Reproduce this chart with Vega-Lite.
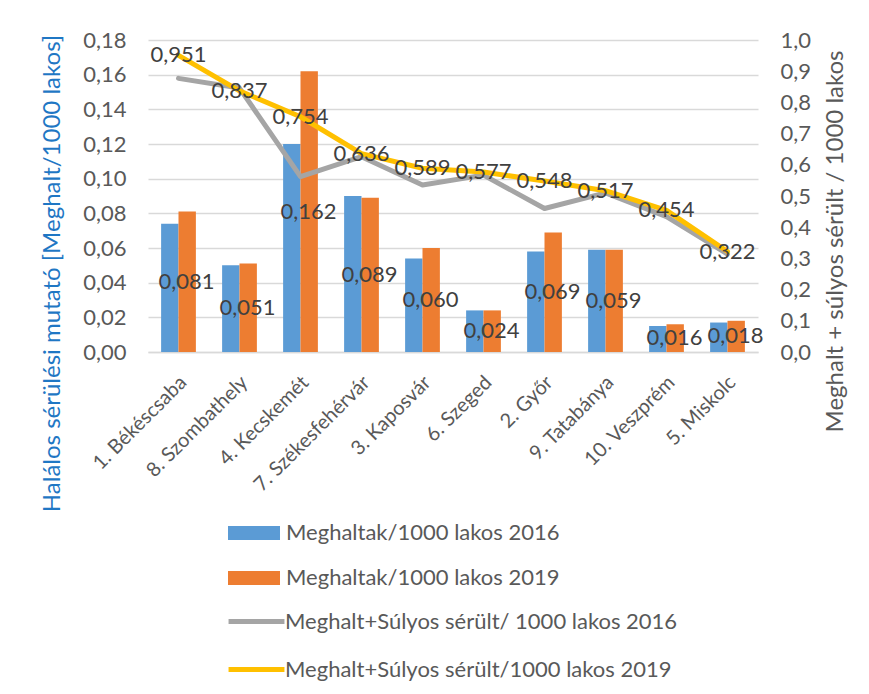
{
  "$schema": "https://vega.github.io/schema/vega-lite/v6.json",
  "width": 610,
  "height": 312,
  "autosize": {"type": "none"},
  "padding": {"left": 148, "top": 40, "right": 111, "bottom": 342},
  "background": "white",
  "config": {
    "font": "Lato",
    "view": {"stroke": null},
    "locale": {"number": {"decimal": ",", "thousands": "\u00a0", "grouping": [3], "currency": ["", ""]}},
    "axis": {"labelFont": "Lato", "titleFont": "Lato", "labelColor": "#595959", "titleColor": "#595959", "titleFontWeight": "normal"},
    "legend": {"labelFont": "Lato", "labelColor": "#595959"}
  },
  "data": {
    "values": [
      {"city": "1. Békéscsaba", "d2016": 0.074, "d2019": 0.081, "s2016": 0.877, "s2019": 0.951},
      {"city": "8. Szombathely", "d2016": 0.050, "d2019": 0.051, "s2016": 0.846, "s2019": 0.837},
      {"city": "4. Kecskemét", "d2016": 0.120, "d2019": 0.162, "s2016": 0.562, "s2019": 0.754},
      {"city": "7. Székesfehérvár", "d2016": 0.090, "d2019": 0.089, "s2016": 0.626, "s2019": 0.636},
      {"city": "3. Kaposvár", "d2016": 0.054, "d2019": 0.060, "s2016": 0.535, "s2019": 0.589},
      {"city": "6. Szeged", "d2016": 0.024, "d2019": 0.024, "s2016": 0.567, "s2019": 0.577},
      {"city": "2. Győr", "d2016": 0.058, "d2019": 0.069, "s2016": 0.460, "s2019": 0.548},
      {"city": "9. Tatabánya", "d2016": 0.059, "d2019": 0.059, "s2016": 0.510, "s2019": 0.517},
      {"city": "10. Veszprém", "d2016": 0.015, "d2019": 0.016, "s2016": 0.434, "s2019": 0.454},
      {"city": "5. Miskolc", "d2016": 0.017, "d2019": 0.018, "s2016": 0.314, "s2019": 0.322}
    ]
  },
  "encoding": {
    "x": {
      "field": "city", "type": "nominal", "sort": null,
      "scale": {"paddingInner": 0.43, "paddingOuter": 0.215},
      "axis": {
        "title": null, "labelAngle": -45, "labelFontSize": 20, "labelPadding": 20,
        "labelAlign": "right", "labelBaseline": "top", "labelOffset": -2, "labelLimit": 0,
        "domain": true, "domainColor": "#D9D9D9", "domainWidth": 1.5, "ticks": false, "grid": false
      }
    }
  },
  "layer": [
    {
      "transform": [{"fold": ["d2016", "d2019"], "as": ["series", "value"]}],
      "mark": {"type": "bar"},
      "encoding": {
        "xOffset": {"field": "series", "type": "nominal", "scale": {"paddingInner": 0, "paddingOuter": 0}},
        "y": {
          "field": "value", "type": "quantitative",
          "scale": {"domain": [0, 0.18], "nice": false, "zero": true},
          "axis": {
            "orient": "left", "values": [0, 0.02, 0.04, 0.06, 0.08, 0.1, 0.12, 0.14, 0.16, 0.18],
            "format": ".2f", "labelFontSize": 22, "labelPadding": 22, "domain": false, "ticks": false,
            "grid": true, "gridColor": "#D9D9D9", "gridWidth": 1.5,
            "title": "Halálos sérülési mutató [Meghalt/1000 lakos]", "titleColor": "#1F77C4",
            "titleFontSize": 24, "titleX": -96, "titleY": 233, "titleAngle": -90,
            "titleAlign": "center", "titleBaseline": "middle"
          }
        },
        "fill": {
          "field": "series", "type": "nominal",
          "scale": {"domain": ["d2016", "d2019"], "range": ["#5B9BD5", "#ED7D31"]},
          "legend": {
            "title": null, "orient": "none", "legendX": 93, "legendY": 480, "padding": 0,
            "symbolType": "M-2,-0.54H2V0.54H-2Z", "symbolSize": 676, "symbolStrokeWidth": 0,
            "labelFontSize": 22, "labelOffset": 19, "rowPadding": 21, "labelLimit": 0,
            "labelExpr": "datum.value == 'd2016' ? 'Meghaltak/1000 lakos 2016' : 'Meghaltak/1000 lakos 2019'"
          }
        }
      }
    },
    {
      "mark": {"type": "text", "fontSize": 22, "color": "#404040", "dx": 8, "align": "center", "baseline": "middle"},
      "encoding": {
        "y": {"field": "d2019", "type": "quantitative", "scale": {"domain": [0, 0.36], "nice": false}, "axis": null},
        "text": {"field": "d2019", "type": "quantitative", "format": ".3f"}
      }
    },
    {
      "transform": [{"fold": ["s2016", "s2019"], "as": ["lseries", "lvalue"]}],
      "mark": {"type": "line", "strokeWidth": 5, "strokeJoin": "round", "strokeCap": "round"},
      "encoding": {
        "y": {
          "field": "lvalue", "type": "quantitative",
          "scale": {"domain": [0, 1], "nice": false},
          "axis": {
            "orient": "right", "values": [0, 0.1, 0.2, 0.3, 0.4, 0.5, 0.6, 0.7, 0.8, 0.9, 1],
            "format": ".1f", "labelFontSize": 22, "labelPadding": 22, "domain": false, "ticks": false, "grid": false,
            "title": "Meghalt + súlyos sérült / 1000 lakos", "titleFontSize": 24,
            "titleX": 77, "titleY": 201, "titleAngle": -90, "titleAlign": "center", "titleBaseline": "middle"
          }
        },
        "stroke": {
          "field": "lseries", "type": "nominal",
          "scale": {"domain": ["s2016", "s2019"], "range": ["#A5A5A5", "#FFC000"]},
          "legend": {
            "title": null, "orient": "none", "legendX": 93, "legendY": 566, "padding": 0,
            "symbolType": "M-2.15,0H2.15", "symbolSize": 676, "symbolStrokeWidth": 5,
            "labelFontSize": 22, "labelOffset": 13, "rowPadding": 21, "labelLimit": 0,
            "labelExpr": "datum.value == 's2016' ? 'Meghalt+Súlyos sérült/ 1000 lakos 2016' : 'Meghalt+Súlyos sérült/1000 lakos 2019'"
          }
        },
        "order": {"field": "lseries", "type": "nominal"}
      }
    },
    {
      "mark": {"type": "text", "fontSize": 22, "color": "#404040", "align": "center", "baseline": "middle"},
      "encoding": {
        "y": {"field": "s2019", "type": "quantitative", "scale": {"domain": [0, 1], "nice": false}, "axis": null},
        "text": {"field": "s2019", "type": "quantitative", "format": ".3f"}
      }
    }
  ],
  "resolve": {"scale": {"y": "independent"}}
}
